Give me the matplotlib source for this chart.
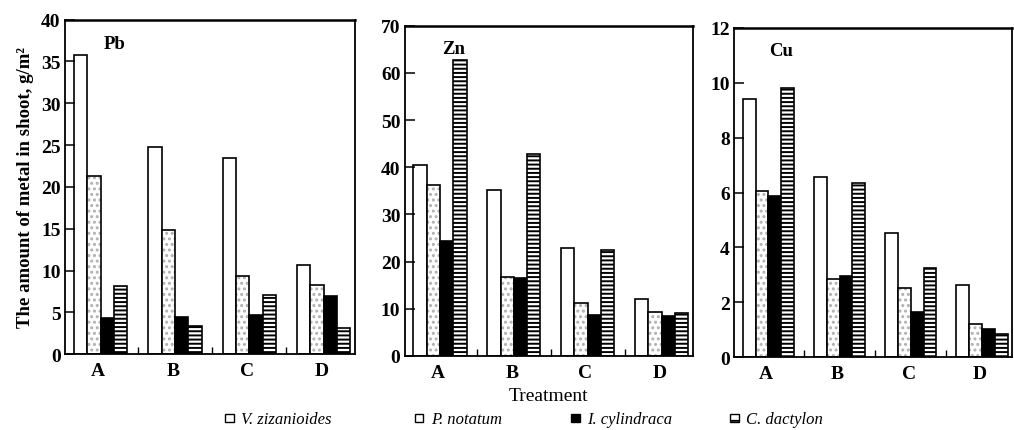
import matplotlib
matplotlib.use("Agg")
import matplotlib.pyplot as plt
from matplotlib.patches import Rectangle
import numpy as np

plt.rcParams['font.family'] = ['Liberation Serif', 'DejaVu Serif']
plt.rcParams['hatch.linewidth'] = 1.4

treatments = ['A', 'B', 'C', 'D']
species = ['V. zizanioides', 'P. notatum', 'I. cylindraca', 'C. dactylon']

# metal in shoot, g/m2, rows = species, cols = treatment A-D
pb = [[35.8, 24.8, 23.4, 10.7],
      [21.3, 14.8, 9.3, 8.3],
      [4.3, 4.5, 4.7, 6.9],
      [8.2, 3.4, 7.1, 3.1]]
zn = [[40.5, 35.2, 22.8, 12.0],
      [36.3, 16.7, 11.2, 9.3],
      [24.4, 16.5, 8.6, 8.5],
      [62.7, 42.8, 22.5, 9.1]]
cu = [[9.42, 6.55, 4.52, 2.64],
      [6.04, 2.84, 2.52, 1.22],
      [5.86, 2.96, 1.64, 1.01],
      [9.80, 6.36, 3.24, 0.83]]

metals = ['Pb', 'Zn', 'Cu']
data = [pb, zn, cu]
ylims = [40, 70, 12]
ysteps = [5, 10, 2]

fig = plt.figure(figsize=(10.14, 4.31), dpi=100)
boxes = [[0.064, 0.176, 0.286, 0.776],
         [0.399, 0.172, 0.284, 0.766],
         [0.724, 0.169, 0.274, 0.764]]

w = 0.18
x = np.arange(len(treatments))

for k in range(3):
    ax = fig.add_axes(boxes[k])
    vals = data[k]
    for j in range(4):
        xs = x + (j - 1.5) * w + 0.03
        if j == 0:
            ax.bar(xs, vals[j], w, color='white', edgecolor='black', linewidth=1.2)
        elif j == 1:
            ax.bar(xs, vals[j], w, color='white', edgecolor='#b0b0b0',
                   hatch='...', linewidth=0)
            ax.bar(xs, vals[j], w, fill=False, edgecolor='black', linewidth=1.2)
        elif j == 2:
            ax.bar(xs, vals[j], w, color='black', edgecolor='black', linewidth=1.2)
        else:
            ax.bar(xs, vals[j], w, color='white', edgecolor='black',
                   hatch='----', linewidth=1.2)
    ax.set_xlim(-0.45, 3.45)
    ax.set_ylim(0, ylims[k])
    ax.set_yticks(np.arange(0, ylims[k] + 0.01, ysteps[k]))
    ax.set_xticks(x)
    ax.set_xticklabels(treatments, fontweight='bold', fontsize=14)
    ax.set_xticks(x[:-1] + 0.53, minor=True)
    ax.tick_params(axis='x', which='major', length=0, pad=6)
    ax.tick_params(axis='x', which='minor', direction='in', length=5, width=1)
    ax.tick_params(axis='y', direction='in', length=7, width=1.1, labelsize=14, pad=3)
    for lab in ax.get_yticklabels():
        lab.set_fontweight('bold')
    for s in ax.spines.values():
        s.set_linewidth(1.3)
    ax.spines['top'].set_linewidth(1.8)
    ax.text(0.17, 0.93, metals[k], transform=ax.transAxes, fontsize=13.5,
            fontweight='bold', ha='center', va='center')
    if k == 0:
        ax.set_ylabel('The amount of metal in shoot, g/m²', fontsize=13.5,
                      fontweight='bold', labelpad=5)

fig.text(0.541, 0.079, 'Treatment', ha='center', va='center', fontsize=14)

# legend built by hand to follow the printed spacing
leg_x = [0.222, 0.409, 0.563, 0.720]
leg_y = 0.026
sq = 0.0085
for j in range(4):
    if j == 2:
        p = Rectangle((leg_x[j], leg_y - 0.008), sq, 0.02, transform=fig.transFigure,
                      facecolor='black', edgecolor='black', linewidth=1)
    elif j == 3:
        p = Rectangle((leg_x[j], leg_y - 0.008), sq, 0.02, transform=fig.transFigure,
                      facecolor='white', edgecolor='black', linewidth=1, hatch='--')
    else:
        p = Rectangle((leg_x[j], leg_y - 0.008), sq, 0.02, transform=fig.transFigure,
                      facecolor='white', edgecolor='black', linewidth=1)
    fig.patches.append(p)
    fig.text(leg_x[j] + 0.016, leg_y, species[j], ha='left', va='center',
             fontsize=12, fontstyle='italic')

fig.savefig('out.png', dpi=100)
